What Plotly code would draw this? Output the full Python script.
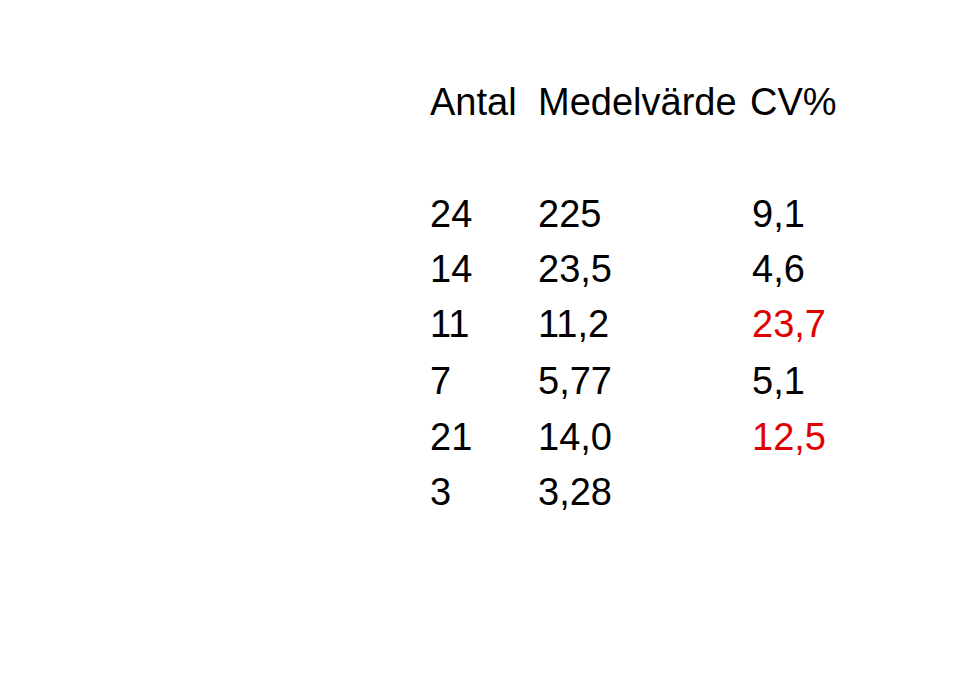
import plotly.graph_objects as go

title = "Prov A - Urinprov"
headers = ["Analys", "Antal", "Medelvärde", "CV%"]
analyses = ["U-Alb (mg/L)", "U-IgG (mg/L)", "U-Protein HC (mg/L)", "U-Kreatinin (mmol/L)",
            "U-Kappakedja (mg/L)", "U-Lambdakedja (mg/L)"]
antal = ["24", "14", "11", "7", "21", "3"]
medel = ["225", "23,5", "11,2", "5,77", "14,0", "3,28"]
cv = ["9,1", "4,6", "23,7", "5,1", "12,5", ""]
cv_flag = [False, False, True, False, True, False]

col_x = [-8, 420, 528, 742]
row_y = [206, 261, 316, 373, 429, 484]
F = "Liberation Sans, Arial, sans-serif"

fig = go.Figure()
ann = []
def t(x, y, s, size=38, color="black", bold=False):
    ann.append(dict(x=x, y=y, xref="x", yref="y", text=(f"<b>{s}</b>" if bold else s),
                    showarrow=False, xanchor="left", yanchor="middle",
                    font=dict(family=F, size=size, color=color)))
t(-8, 9, title, size=31, bold=True)
hx = [-8, 420, 528, 740]
for x, h in zip(hx, headers):
    t(x, 94, h)
for i, y in enumerate(row_y):
    t(col_x[0], y, analyses[i])
    t(col_x[1], y, antal[i])
    t(col_x[2], y, medel[i])
    if cv[i]:
        t(col_x[3], y, cv[i], color="#e00000" if cv_flag[i] else "black")
t(-8, 674, "9", size=15, color="#888888")
ann.append(dict(x=966, y=664, xref="x", yref="y", showarrow=False, xanchor="right", yanchor="middle",
                text="<b>E<span style='color:#1f5fa0'>Q</span>UALIS</b>",
                font=dict(family=F, size=38, color="#7f8083")))
fig.update_layout(width=960, height=692, margin=dict(l=0, r=0, t=0, b=0),
                  plot_bgcolor="white", paper_bgcolor="white", annotations=ann,
                  xaxis=dict(range=[0, 960], visible=False, fixedrange=True),
                  yaxis=dict(range=[692, 0], visible=False, fixedrange=True),
                  showlegend=False)
fig.write_html("out.html")
